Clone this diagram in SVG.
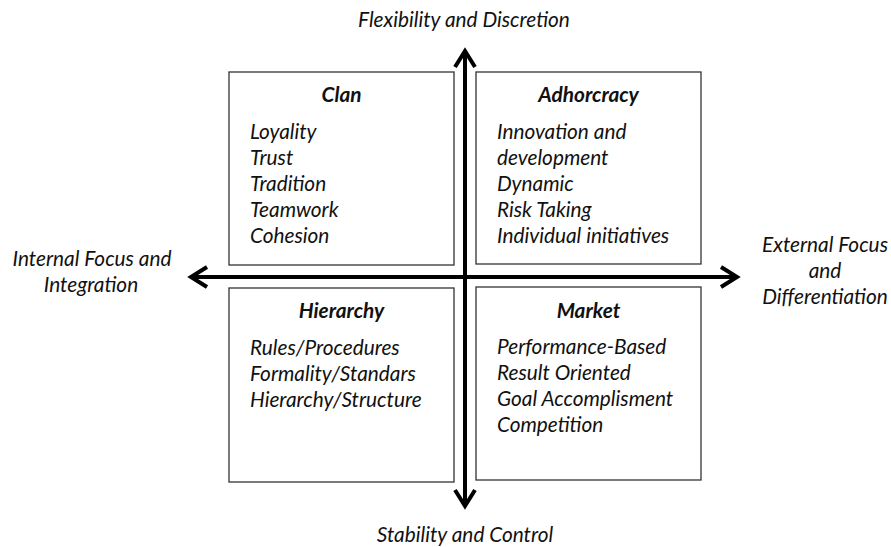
<svg xmlns="http://www.w3.org/2000/svg" width="891" height="547" viewBox="0 0 891 547">
<style>
text{font-family:Lato,"Open Sans","Liberation Sans",sans-serif;font-style:italic;font-size:20.8px;fill:#111}
.t{font-weight:bold;text-anchor:middle}
.c{text-anchor:middle}
.box{fill:#fff;stroke:#333;stroke-width:1.3}
.axis{stroke:#000;stroke-width:4;fill:none;marker-start:url(#chev);marker-end:url(#chev)}
</style>
<defs>
<marker id="chev" markerUnits="userSpaceOnUse" viewBox="-22 -15 26 30" refX="0" refY="0" markerWidth="26" markerHeight="30" orient="auto-start-reverse" overflow="visible">
<path d="M-16,-10 L0,0 L-16,10" fill="none" stroke="#000" stroke-width="4" stroke-linejoin="miter"/>
</marker>
</defs>
<rect width="891" height="547" fill="#fff"/>
<g id="connectors">
<line class="axis" x1="465" y1="506" x2="465" y2="51"/>
<line class="axis" x1="191" y1="277" x2="737" y2="277"/>
</g>
<g id="clan">
<rect class="box" x="229" y="72" width="225" height="193"/>
<text class="t" x="341.5" y="101.5">Clan</text>
<text x="250" y="139">Loyality</text>
<text x="250" y="164.9">Trust</text>
<text x="250" y="190.8">Tradition</text>
<text x="250" y="216.7">Teamwork</text>
<text x="250" y="242.6">Cohesion</text>
</g>
<g id="adhocracy">
<rect class="box" x="476" y="72" width="225" height="192"/>
<text class="t" x="588.5" y="101.5">Adhorcracy</text>
<text x="497" y="139">Innovation and</text>
<text x="497" y="164.9">development</text>
<text x="497" y="190.8">Dynamic</text>
<text x="497" y="216.7">Risk Taking</text>
<text x="497" y="242.6">Individual initiatives</text>
</g>
<g id="hierarchy">
<rect class="box" x="229" y="288" width="225" height="194"/>
<text class="t" x="341.5" y="318">Hierarchy</text>
<text x="250" y="355">Rules/Procedures</text>
<text x="250" y="381">Formality/Standars</text>
<text x="250" y="407">Hierarchy/Structure</text>
</g>
<g id="market">
<rect class="box" x="476" y="287" width="225" height="193"/>
<text class="t" x="588.5" y="318">Market</text>
<text x="497" y="354">Performance-Based</text>
<text x="497" y="380">Result Oriented</text>
<text x="497" y="406">Goal Accomplisment</text>
<text x="497" y="432">Competition</text>
</g>
<g id="labels">
<text class="c" x="464" y="27">Flexibility and Discretion</text>
<text class="c" x="465" y="541.5">Stability and Control</text>
<text class="c" x="92" y="266">Internal Focus and</text>
<text class="c" x="91" y="292">Integration</text>
<text class="c" x="825" y="252">External Focus</text>
<text class="c" x="825" y="278">and</text>
<text class="c" x="825" y="304">Differentiation</text>
</g>
</svg>
